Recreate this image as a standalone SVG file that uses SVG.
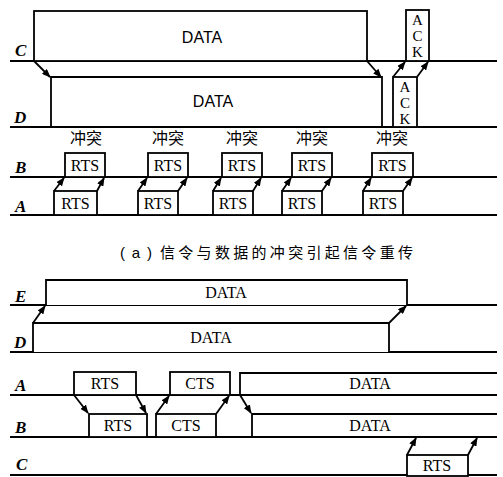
<svg xmlns="http://www.w3.org/2000/svg" width="503" height="477" viewBox="0 0 503 477">
<style>
.bg{fill:#fff}
.axis{stroke:#000;stroke-width:2;fill:none}
.box{stroke:#000;stroke-width:1.8;fill:#fff}
.open{stroke:#000;stroke-width:1.8;fill:none}
.lbl{font-family:"Liberation Serif",serif;font-style:italic;font-weight:bold;font-size:17px;fill:#000}
.t{font-family:"Liberation Serif",serif;font-size:16px;fill:#000;text-anchor:middle}
.ts{font-family:"Liberation Sans",sans-serif;font-size:16px;fill:#000;text-anchor:middle}
.ack{font-family:"Liberation Serif",serif;font-size:15px;fill:#000;text-anchor:middle}
.cjk{font-family:"Liberation Serif","Noto Sans CJK SC",sans-serif;font-size:16px;fill:#000;text-anchor:middle}
.cap{font-family:"Liberation Sans","Noto Sans CJK SC",sans-serif;font-size:15px;fill:#000}
.arr{stroke:#000;stroke-width:1.8;fill:none;marker-end:url(#ah)}
</style>
<defs>
<marker id="ah" viewBox="0 0 10 8" refX="9" refY="4" markerWidth="9" markerHeight="7" markerUnits="userSpaceOnUse" orient="auto">
<path d="M0,0 L10,4 L0,8 z" fill="#000"/>
</marker>
</defs>
<rect class="bg" x="0" y="0" width="503" height="477"/>

<g id="axes">
<line class="axis" x1="10" y1="61" x2="497" y2="61"/>
<line class="axis" x1="10" y1="127" x2="497" y2="127"/>
<line class="axis" x1="10" y1="177" x2="497" y2="177"/>
<line class="axis" x1="10" y1="215" x2="497" y2="215"/>
<line class="axis" x1="10" y1="305" x2="497" y2="305"/>
<line class="axis" x1="10" y1="352" x2="497" y2="352"/>
<line class="axis" x1="10" y1="395" x2="497" y2="395"/>
<line class="axis" x1="10" y1="437" x2="497" y2="437"/>
<line class="axis" x1="10" y1="475" x2="497" y2="475"/>
</g>

<g id="labels">
<text class="lbl" x="15" y="56">C</text>
<text class="lbl" x="14" y="123">D</text>
<text class="lbl" x="15" y="173">B</text>
<text class="lbl" x="15" y="212">A</text>
<text class="lbl" x="15" y="302">E</text>
<text class="lbl" x="14" y="348">D</text>
<text class="lbl" x="15" y="391">A</text>
<text class="lbl" x="15" y="433">B</text>
<text class="lbl" x="16" y="470">C</text>
</g>

<!-- Part (a) -->
<g id="c-data">
<rect class="box" x="34" y="11" width="333" height="50"/>
<text class="ts" x="202" y="43">DATA</text>
</g>
<g id="d-data">
<path class="open" d="M51,127 V77 H382 V127"/>
<text class="ts" x="213" y="107">DATA</text>
</g>
<g id="c-ack">
<rect class="box" x="406" y="10" width="23" height="51"/>
<text class="ack" x="417.5" y="25">A</text>
<text class="ack" x="417.5" y="41">C</text>
<text class="ack" x="417.5" y="57">K</text>
</g>
<g id="d-ack">
<rect class="box" x="393" y="77" width="24" height="50"/>
<text class="ack" x="405" y="92">A</text>
<text class="ack" x="405" y="108">C</text>
<text class="ack" x="405" y="124">K</text>
</g>

<g id="b-rts-1"><text class="cjk" x="86" y="144">冲突</text><rect class="box" x="65" y="153" width="40" height="24"/><text class="t" x="85" y="171">RTS</text></g>
<g id="b-rts-2"><text class="cjk" x="168" y="144">冲突</text><rect class="box" x="148" y="153" width="40" height="24"/><text class="t" x="168" y="171">RTS</text></g>
<g id="b-rts-3"><text class="cjk" x="242" y="144">冲突</text><rect class="box" x="222" y="153" width="40" height="24"/><text class="t" x="242" y="171">RTS</text></g>
<g id="b-rts-4"><text class="cjk" x="312" y="144">冲突</text><rect class="box" x="292" y="153" width="40" height="24"/><text class="t" x="312" y="171">RTS</text></g>
<g id="b-rts-5"><text class="cjk" x="392" y="144">冲突</text><rect class="box" x="372" y="153" width="41" height="24"/><text class="t" x="392.5" y="171">RTS</text></g>

<g id="a-rts-1"><rect class="box" x="54" y="191" width="43" height="24"/><text class="t" x="75.5" y="209">RTS</text></g>
<g id="a-rts-2"><rect class="box" x="138" y="191" width="40" height="24"/><text class="t" x="158" y="209">RTS</text></g>
<g id="a-rts-3"><rect class="box" x="213" y="191" width="40" height="24"/><text class="t" x="233" y="209">RTS</text></g>
<g id="a-rts-4"><rect class="box" x="282" y="191" width="40" height="24"/><text class="t" x="302" y="209">RTS</text></g>
<g id="a-rts-5"><rect class="box" x="363" y="191" width="40" height="24"/><text class="t" x="383" y="209">RTS</text></g>

<g id="caption-a">
<text class="cap" x="120" y="258" textLength="32" lengthAdjust="spacing">(a)</text>
<text class="cap" x="160" y="258" textLength="253" lengthAdjust="spacing">信令与数据的冲突引起信令重传</text>
</g>

<!-- Part (b) -->
<g id="e-data">
<path class="box" d="M46,305 V280 H407 V305"/>
<text class="t" x="226" y="298">DATA</text>
</g>
<g id="d2-data">
<path class="box" d="M33,352 V323 H389 V352"/>
<text class="t" x="211" y="343">DATA</text>
</g>

<g id="a-rts"><rect class="box" x="74" y="372" width="62" height="23"/><text class="t" x="105" y="389">RTS</text></g>
<g id="b-rts"><rect class="box" x="89" y="414" width="58" height="23"/><text class="t" x="118" y="431">RTS</text></g>
<g id="b-cts"><rect class="box" x="156" y="414" width="60" height="23"/><text class="t" x="186" y="431">CTS</text></g>
<g id="a-cts"><rect class="box" x="170" y="372" width="60" height="23"/><text class="t" x="200" y="389">CTS</text></g>
<g id="a-data"><path class="open" d="M240,395 V373 H497"/><text class="t" x="370" y="389">DATA</text></g>
<g id="b-data"><path class="open" d="M252,437 V414 H497"/><text class="t" x="370" y="431">DATA</text></g>
<g id="c-rts"><rect class="box" x="407" y="455" width="61" height="21"/><text class="t" x="437" y="471">RTS</text></g>

<g id="connectors">
<line class="arr" x1="34" y1="61" x2="50" y2="77"/>
<line class="arr" x1="367" y1="61" x2="381" y2="77"/>
<line class="arr" x1="393" y1="77" x2="405" y2="62"/>
<line class="arr" x1="417" y1="77" x2="428" y2="62"/>

<line class="arr" x1="54" y1="191" x2="64" y2="178"/>
<line class="arr" x1="97" y1="191" x2="104" y2="178"/>
<line class="arr" x1="138" y1="191" x2="147" y2="178"/>
<line class="arr" x1="178" y1="191" x2="187" y2="178"/>
<line class="arr" x1="213" y1="191" x2="221" y2="178"/>
<line class="arr" x1="253" y1="191" x2="261" y2="178"/>
<line class="arr" x1="282" y1="191" x2="291" y2="178"/>
<line class="arr" x1="322" y1="191" x2="331" y2="178"/>
<line class="arr" x1="363" y1="191" x2="371" y2="178"/>
<line class="arr" x1="403" y1="191" x2="412" y2="178"/>

<line class="arr" x1="33" y1="323" x2="45" y2="306"/>
<line class="arr" x1="389" y1="323" x2="406" y2="306"/>

<line class="arr" x1="74" y1="395" x2="88" y2="413"/>
<line class="arr" x1="136" y1="395" x2="146" y2="413"/>
<line class="arr" x1="156" y1="414" x2="169" y2="396"/>
<line class="arr" x1="216" y1="414" x2="229" y2="396"/>
<line class="arr" x1="240" y1="395" x2="251" y2="413"/>
<line class="arr" x1="407" y1="455" x2="416" y2="438"/>
<line class="arr" x1="468" y1="455" x2="477" y2="438"/>
</g>
</svg>
